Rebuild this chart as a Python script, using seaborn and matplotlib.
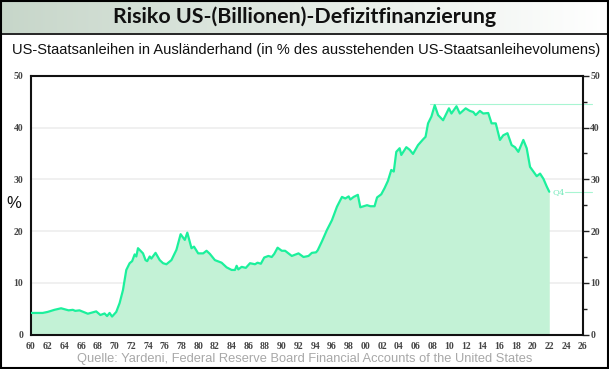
import numpy as np
import pandas as pd
import matplotlib
matplotlib.use('Agg')
import matplotlib.pyplot as plt
import seaborn as sns
from matplotlib.ticker import MultipleLocator, FuncFormatter

# Werte (Jahr, Anteil in %)
jahre = [1960.0, 1961.4, 1962.0, 1962.8, 1963.6, 1964.5, 1965.0, 1965.3, 1965.8, 1966.8,
         1967.8, 1968.3, 1968.8, 1969.1, 1969.4, 1969.7, 1970.2, 1970.6, 1971.0, 1971.4,
         1971.8, 1972.1, 1972.4, 1972.6, 1972.8, 1973.4, 1973.7, 1973.9, 1974.2, 1974.4,
         1974.9, 1975.4, 1975.8, 1976.2, 1976.8, 1977.4, 1977.9, 1978.4, 1978.7, 1979.2,
         1979.5, 1980.0, 1980.6, 1981.0, 1981.4, 1982.0, 1982.8, 1983.4, 1984.0, 1984.4,
         1984.6, 1984.8, 1985.2, 1985.7, 1986.2, 1986.8, 1987.1, 1987.5, 1987.9, 1988.4,
         1988.8, 1989.1, 1989.5, 1990.0, 1990.4, 1991.2, 1992.0, 1992.6, 1993.2, 1993.6,
         1994.1, 1994.3, 1994.8, 1995.4, 1996.0, 1996.6, 1997.2, 1997.6, 1998.0, 1998.2,
         1998.6, 1999.1, 1999.4, 1999.8, 2000.2, 2000.6, 2001.1, 2001.4, 2001.9, 2002.3,
         2002.7, 2003.1, 2003.4, 2003.7, 2004.1, 2004.3, 2004.9, 2005.3, 2005.7, 2006.3,
         2006.9, 2007.2, 2007.5, 2007.9, 2008.3, 2008.7, 2009.3, 2010.0, 2010.3, 2010.9,
         2011.3, 2012.0, 2012.5, 2012.9, 2013.2, 2013.7, 2014.1, 2014.7, 2015.1, 2015.6,
         2016.1, 2016.5, 2017.0, 2017.5, 2017.9, 2018.3, 2018.9, 2019.3, 2019.7, 2020.5,
         2020.9, 2021.3, 2021.7, 2022.0]
anteil = [4.2, 4.2, 4.4, 4.8, 5.1, 4.7, 4.8, 4.6, 4.7, 4.05,
          4.5, 3.8, 4.1, 3.6, 4.2, 3.5, 4.4, 6.1, 8.6, 12.5,
          13.8, 14.2, 15.5, 15.1, 16.7, 15.7, 14.4, 14.2, 15.1, 14.7,
          15.8, 14.4, 13.8, 13.6, 14.4, 16.4, 19.4, 18.3, 19.7, 16.7,
          17.0, 15.7, 15.7, 16.2, 15.6, 14.4, 13.9, 13.0, 12.5, 12.5,
          13.3, 12.6, 13.1, 12.9, 13.8, 13.6, 13.9, 13.7, 14.9, 15.2,
          15.0, 15.6, 16.8, 16.2, 16.2, 15.2, 15.7, 15.0, 15.2, 15.8,
          15.9, 16.3, 18.0, 20.2, 22.1, 24.7, 26.6, 26.3, 26.7, 26.1,
          26.6, 27.0, 24.6, 24.8, 25.0, 24.8, 24.8, 26.5, 27.1, 28.3,
          29.7, 31.8, 31.5, 35.3, 36.0, 34.7, 36.2, 35.7, 34.9, 36.6,
          37.7, 38.2, 40.8, 42.1, 44.3, 42.4, 41.4, 43.7, 42.7, 44.1,
          42.7, 43.7, 43.2, 43.0, 42.4, 43.2, 42.7, 42.8, 40.8, 40.8,
          37.6, 38.5, 38.9, 36.6, 36.2, 35.3, 37.6, 36.0, 32.4, 30.6,
          31.1, 30.1, 28.6, 27.6]

maximum = 44.5
letzter_wert = 27.6
letztes_quartal = 'Q4'

titel = 'Risiko US-(Billionen)-Defizitfinanzierung'
untertitel = 'US-Staatsanleihen in Ausländerhand (in % des ausstehenden US-Staatsanleihevolumens)'
quelle = 'Quelle: Yardeni, Federal Reserve Board Financial Accounts of the United States'

df = pd.DataFrame({'Jahr': jahre, 'Anteil': anteil})

sns.set_style('white')
plt.rcParams['font.family'] = ['Liberation Sans', 'DejaVu Sans']

linie = '#1cf09c'
flaeche = '#c3f2d6'

fig = plt.figure(figsize=(6.09, 3.69), dpi=100)

# Titelbalken mit Verlauf
bar = fig.add_axes([0, 1 - 33 / 369, 1, 33 / 369])
verlauf = np.linspace(0, 1, 256)
links = np.array([0.78, 0.84, 0.79])
rechts = np.array([1.0, 1.0, 1.0])
farben = links[None, :] * (1 - verlauf[:, None]) + rechts[None, :] * verlauf[:, None]
bar.imshow(farben[None, :, :], aspect='auto', extent=[0, 1, 0, 1])
bar.set_axis_off()
fig.text(0.5, 1 - 16.5 / 369, titel, ha='center', va='center', fontsize=15.4,
         fontweight='bold', family=['Lato', 'DejaVu Sans'], color='#111111')
fig.add_artist(plt.Line2D([0, 1], [1 - 33.5 / 369] * 2, color='black', lw=1.2))
fig.add_artist(plt.Rectangle((0.001, 0.002), 0.997, 0.996, fill=False,
                             edgecolor='black', lw=1.5))

fig.text(12 / 609, 1 - 50 / 369, untertitel, ha='left', va='center', fontsize=10.5,
         color='#111111')
fig.text(305 / 609, 1 - 359 / 369, quelle, ha='center', va='center', fontsize=9.3,
         color='#a8a8a8')
fig.text(14 / 609, 1 - 204 / 369, '%', ha='center', va='center', fontsize=12,
         color='#111111')

ax = fig.add_axes([31 / 609, 34.3 / 369, (582.7 - 31) / 609, (334.7 - 75.7) / 369])
ax.fill_between(df['Jahr'], df['Anteil'], 0, color=flaeche, lw=0, zorder=1)
sns.lineplot(data=df, x='Jahr', y='Anteil', ax=ax, color=linie, lw=1.6, zorder=3)

ax.plot([2007.7, 2027.1], [maximum, maximum], color='#a8f5d2', lw=0.8,
        clip_on=False, zorder=2)
ax.plot([2023.9, 2027.1], [letzter_wert, letzter_wert], color='#a8f5d2', lw=0.8,
        clip_on=False, zorder=2)
ax.text(2022.35, letzter_wert, letztes_quartal, ha='left', va='center', fontsize=6,
        color='#6fe8b8', family=['DejaVu Serif'])

ax.set_xlim(1960, 2026)
ax.set_ylim(0, 50)
for y in [10, 20, 30, 40]:
    ax.axhline(y, color='#eeeeee', lw=1.2, zorder=0)

ax.xaxis.set_major_locator(MultipleLocator(2))
ax.xaxis.set_minor_locator(MultipleLocator(1))
ax.xaxis.set_major_formatter(FuncFormatter(lambda v, p: f'{int(v) % 100:02d}'))
ax.yaxis.set_major_locator(MultipleLocator(10))
ax.yaxis.set_minor_locator(MultipleLocator(5))
ax.tick_params(axis='both', which='both', direction='out', color='#222222',
               labelsize=7, labelcolor='#444444', width=1)
ax.tick_params(axis='x', which='both', length=3.5, pad=2)
ax.tick_params(axis='y', which='major', length=4, pad=1.5, right=True, labelright=True)
ax.tick_params(axis='y', which='minor', length=3, right=True)
for lab in ax.get_xticklabels() + ax.get_yticklabels():
    lab.set_family(['Liberation Serif', 'DejaVu Serif'])
    lab.set_fontweight('bold')
ax.set_xlabel('')
ax.set_ylabel('')
for s in ax.spines.values():
    s.set_visible(True)
    s.set_color('#111111')
    s.set_linewidth(1.5)

fig.savefig('out.png', dpi=100)
